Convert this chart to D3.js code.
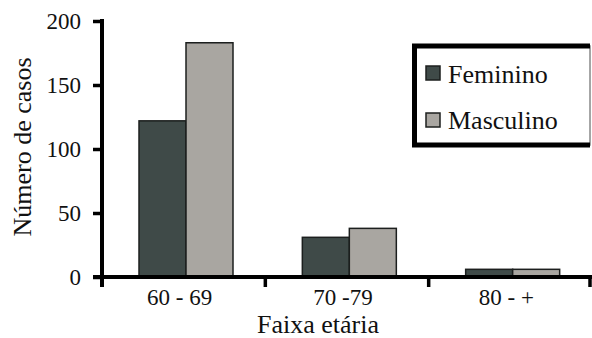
<!DOCTYPE html>
<html>
<head>
<meta charset="utf-8">
<script src="https://cdn.jsdelivr.net/npm/d3@7"></script>
<style>
  html, body { margin: 0; padding: 0; background: #fff; }
</style>
</head>
<body>
<svg id="chart" width="592" height="338"></svg>
<script>
const categories = ["60 - 69", "70 -79", "80 - +"];
const series = ["Feminino", "Masculino"];
const feminino = [122, 31, 6];
const masculino = [183, 38, 6];
const yTicks = [0, 50, 100, 150, 200];
const colors = ["#3f4a48", "#a9a6a1"];
const FONT = "'Liberation Serif'";

const values = [feminino, masculino];
const data = categories.map((c, i) => ({cat: c, vals: series.map((s, j) => ({s, v: values[j][i], j}))}));

const svg = d3.select("#chart");
const x0 = d3.scaleBand().domain(categories).range([102, 592]).padding(0);
const x1 = d3.scaleBand().domain(series).range([37, 131]).padding(0);
const y = d3.scaleLinear().domain([0, 200]).range([277, 21]);

// bars
const g = svg.append("g");
g.selectAll("g.grp").data(data).join("g")
  .attr("transform", d => `translate(${x0(d.cat)},0)`)
  .selectAll("rect").data(d => d.vals).join("rect")
  .attr("x", d => x1(d.s))
  .attr("y", d => y(d.v))
  .attr("width", x1.bandwidth())
  .attr("height", d => y(0) - y(d.v))
  .attr("fill", d => colors[d.j])
  .attr("stroke", "#1c1f1e")
  .attr("stroke-width", 1.5);

// y axis
const yAxis = d3.axisLeft(y).tickValues(yTicks).tickSizeInner(9).tickSizeOuter(0).tickPadding(12);
const ya = svg.append("g").attr("transform", "translate(102,0)").call(yAxis)
  .attr("font-family", null).attr("font-size", null);
ya.select(".domain").remove();
ya.selectAll(".tick line").attr("stroke", "#000").attr("stroke-width", 3.5);
ya.selectAll(".tick text").attr("font-size", 23).attr("fill", "#111")
  .style("font-family", FONT);
svg.append("line").attr("x1", 102).attr("x2", 102).attr("y1", y(200) - 2).attr("y2", 287)
  .attr("stroke", "#000").attr("stroke-width", 4);

// x axis
svg.append("line").attr("x1", 93).attr("x2", 592).attr("y1", y(0)).attr("y2", y(0))
  .attr("stroke", "#000").attr("stroke-width", 4);
const bounds = categories.map(c => x0(c)).concat([x0.range()[1] - 2]);
svg.selectAll("line.xt").data(bounds).join("line")
  .attr("x1", d => d).attr("x2", d => d).attr("y1", y(0)).attr("y2", 287)
  .attr("stroke", "#000").attr("stroke-width", 3.5);
svg.selectAll("text.xl").data(categories).join("text")
  .attr("x", d => x0(d) + x0.bandwidth() / 2 - 4)
  .attr("y", 305)
  .attr("text-anchor", "middle")
  .style("font-family", FONT)
  .attr("font-size", 23).attr("fill", "#111")
  .text(d => d);

// axis titles
svg.append("text").attr("x", 318).attr("y", 333).attr("text-anchor", "middle")
  .style("font-family", FONT)
  .attr("font-size", 26).attr("fill", "#111").text("Faixa etária");
svg.append("text").attr("transform", "translate(31,147) rotate(-90)")
  .style("font-family", FONT)
  .attr("text-anchor", "middle").attr("font-size", 26).attr("fill", "#111").text("Número de casos");

// legend
const lg = svg.append("g");
lg.append("rect").attr("x", 413).attr("y", 46).attr("width", 177).attr("height", 99)
  .attr("fill", "#fff").attr("stroke", "#888").attr("stroke-width", 1.5);
lg.append("path").attr("d", "M590,46 H414.5 V145 H590")
  .attr("fill", "none").attr("stroke", "#000").attr("stroke-width", 5);
lg.selectAll("rect.sw").data(series).join("rect")
  .attr("x", 426).attr("y", (d, i) => 66 + i * 47)
  .attr("width", 14).attr("height", 14)
  .attr("fill", (d, i) => colors[i]).attr("stroke", "#1c1f1e").attr("stroke-width", 1.5);
lg.selectAll("text.lt").data(series).join("text")
  .attr("x", 448).attr("y", (d, i) => 83 + i * 46)
  .style("font-family", FONT)
  .attr("font-size", 26).attr("fill", "#111").text(d => d);
</script>
</body>
</html>
